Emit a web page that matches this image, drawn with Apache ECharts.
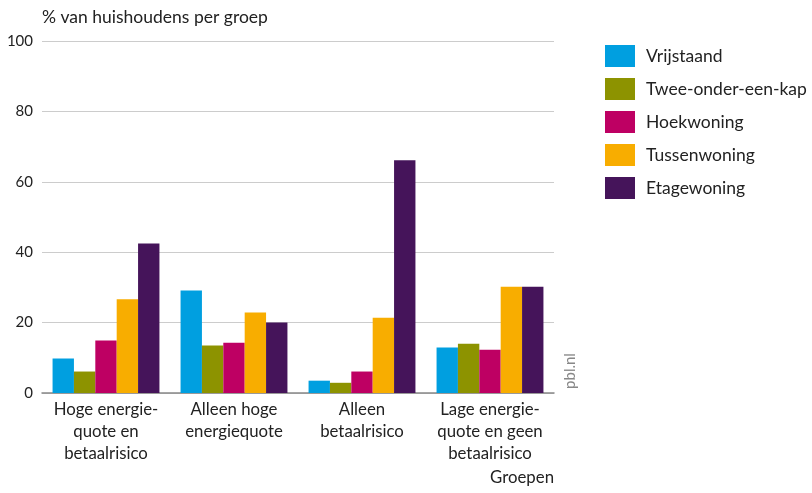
<!DOCTYPE html>
<html><head><meta charset="utf-8">
<script src="https://cdn.jsdelivr.net/npm/echarts@6/dist/echarts.min.js"></script>
<style>html,body{margin:0;padding:0;background:#fff}#c{width:812px;height:493px}</style>
</head><body><div id="c"></div>
<script>
const categories = ["Hoge energie-\nquote en\nbetaalrisico", "Alleen hoge\nenergiequote", "Alleen\nbetaalrisico", "Lage energie-\nquote en geen\nbetaalrisico"];
const seriesNames = ["Vrijstaand", "Twee-onder-een-kap", "Hoekwoning", "Tussenwoning", "Etagewoning"];
const vrijstaand = [9.8, 29.1, 3.5, 12.9];
const tweeOnder = [6.1, 13.5, 2.9, 14.0];
const hoekwoning = [14.9, 14.3, 6.1, 12.3];
const tussenwoning = [26.6, 22.9, 21.4, 30.2];
const etagewoning = [42.5, 20.0, 66.1, 30.2];
const yTicks = [0, 20, 40, 60, 80, 100];
const colors = ["#009FE0", "#8D9300", "#BE0063", "#F8AD00", "#45145A"];
const values = [vrijstaand, tweeOnder, hoekwoning, tussenwoning, etagewoning];
const font = "Lato, 'Open Sans', sans-serif";
const chart = echarts.init(document.getElementById('c'));
chart.setOption({
  animation: false,
  textStyle: {fontFamily: font},
  grid: {left: 42, right: 258, top: 41, bottom: 100, containLabel: false},
  legend: {
    orient: 'vertical', left: 600, top: 40, itemWidth: 30, itemHeight: 22, itemGap: 11,
    icon: 'rect', data: seriesNames,
    textStyle: {fontSize: 17.5, color: '#222', fontFamily: font, padding: [0,0,0,6]}
  },
  xAxis: {
    type: 'category', data: categories,
    axisLine: {lineStyle: {color: '#888', width: 1.5}},
    axisTick: {show: false},
    axisLabel: {fontSize: 16.8, color: '#222', lineHeight: 22, margin: 6, interval: 0, fontFamily: font}
  },
  yAxis: {
    type: 'value', min: yTicks[0], max: yTicks[yTicks.length-1], interval: 20,
    axisLine: {show: false}, axisTick: {show: false},
    splitLine: {lineStyle: {color: '#cccccc', width: 1.2}},
    axisLabel: {fontSize: 15, color: '#222', margin: 9, fontFamily: font}
  },
  series: seriesNames.map((n, i) => ({
    name: n, type: 'bar', data: values[i], barGap: '0%', barCategoryGap: '16.5%',
    itemStyle: {color: colors[i]}
  })),
  graphic: [
    {type: 'text', left: 42, top: 8, style: {text: '% van huishoudens per groep', fontSize: 17.5, fill: '#222', fontFamily: font}},
    {type: 'text', right: 258, top: 469, style: {text: 'Groepen', fontSize: 16.8, fill: '#222', fontFamily: font}},
    {type: 'text', x: 570, y: 371, rotation: Math.PI/2, style: {text: 'pbl.nl', fontSize: 15, fill: '#888', fontFamily: font, align: 'center', verticalAlign: 'middle'}}
  ]
});
</script></body></html>
